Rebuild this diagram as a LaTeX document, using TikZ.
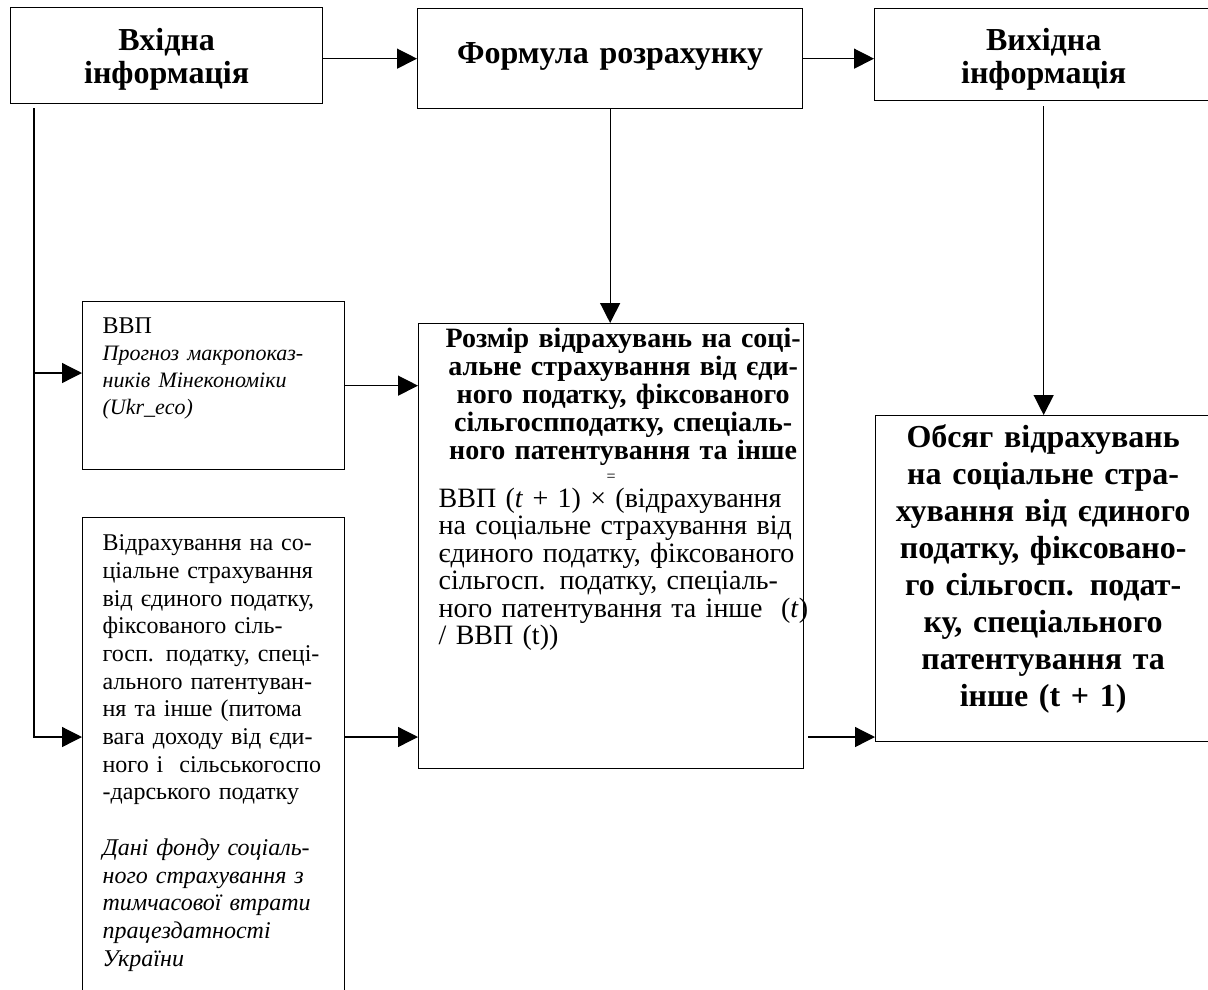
\documentclass[tikz,border=0pt]{standalone}
\usepackage{fontspec}
\setmainfont{Liberation Serif}
\usepackage{tikz}
\usetikzlibrary{positioning,arrows.meta,calc}

\begin{document}
\begin{tikzpicture}[x=1pt,y=-1pt,
 box/.style={draw,line width=1.3pt,anchor=north west,inner xsep=0pt,inner ysep=0pt},
 head/.style={box,align=center,font=\fontsize{32}{33}\selectfont\bfseries},
 src/.style={box,align=left,inner xsep=20pt,text width=222pt,font=\fontsize{24}{27.7}\selectfont},
 arr/.style={-{Triangle[length=20pt,width=20pt]},line width=1.3pt}]
\useasboundingbox (0,0) rectangle (1208,989);
% top row
\node[head,text width=312pt,text height=43pt,text depth=53pt] (in) at (10,7) {Вхідна\\інформація};
\node[head,text width=385pt,text height=55pt,text depth=45pt] (formula) at (417,8) {Формула розрахунку};
\node[head,text width=338pt,text height=42pt,text depth=50pt] (out) at (874,8) {Вихідна\\інформація};
% sources
\node[src,text height=32pt,text depth=136pt] (gdp) at (82,301) {ВВП\\{\fontsize{22}{27}\selectfont\itshape Прогноз макропоказ-\\ників Мінекономіки\\(Ukr\_eco)\par}};
\node[src,text height=33pt,text depth=450pt] (ded) at (82,517) {Відрахування на со-\\ціальне страхування\\від єдиного податку,\\фіксованого сіль-\\госп. податку, спеці-\\ального патентуван-\\ня та інше (питома\\вага доходу від єди-\\ного і~ сільськогоспо\\-дарського податку\\[27.7pt]\itshape Дані фонду соціаль-\\ного страхування з\\тимчасової втрати\\працездатності\\України};
% calculation and result
\node[box,align=left,text width=385pt,text height=24pt,text depth=421pt,font=\fontsize{28}{28}\selectfont] (calc) at (418,323)
 {{\centering\leftskip=24pt plus 1fil\bfseries Розмір відрахувань на соці-\\альне страхування від єди-\\ного податку, фіксованого\\сільгоспподатку, спеціаль-\\ного патентування та інше\\[-6pt]\leftskip=0pt plus 1fil\fontsize{16}{28}\selectfont\mdseries =\par}
 {\fontsize{28}{27.5}\selectfont\vspace{-2pt}\leftskip=20pt\rightskip=-20pt plus 1fil ВВП (\textit{t} + 1) × (відрахування\\на соціальне страхування від\\єдиного податку, фіксованого\\сільгосп. податку, спеціаль-\\ного патентування та інше~ (\textit{t})\\/ ВВП (t))\par}};
\node[box,align=center,text width=335pt,text height=32pt,text depth=294pt,font=\fontsize{32}{37}\selectfont\bfseries] (res) at (875,415) {Обсяг відрахувань\\на соціальне стра-\\хування від єдиного\\податку, фіксовано-\\го сільгосп. подат-\\ку, спеціального\\патентування та\\інше (t + 1)};
% connectors
\coordinate (trunk) at ([xshift=24pt,yshift=-4pt]in.south west);
\draw[arr] (in.east |- formula.west) -- (formula.west);
\draw[arr] (formula.east) -- (formula.east -| out.west);
\draw[arr] (trunk) |- ([yshift=-220pt]ded.north west);
\draw[arr] ([yshift=-72pt]gdp.north west -| trunk) -- ([yshift=-72pt]gdp.north west);
\draw[arr] (gdp.east) -- (gdp.east -| calc.west);
\draw[arr] ([yshift=-220pt]ded.north east) -- ([yshift=-220pt]ded.north east -| calc.west);
\draw[arr] (formula.south) -- (formula.south |- calc.north);
\draw[arr,shorten <=5pt] (out.south) -- (out.south |- res.north);
\draw[arr,shorten <=4pt] ([yshift=-414pt]calc.north east) -- ([yshift=-414pt]calc.north east -| res.west);
\end{tikzpicture}
\end{document}
